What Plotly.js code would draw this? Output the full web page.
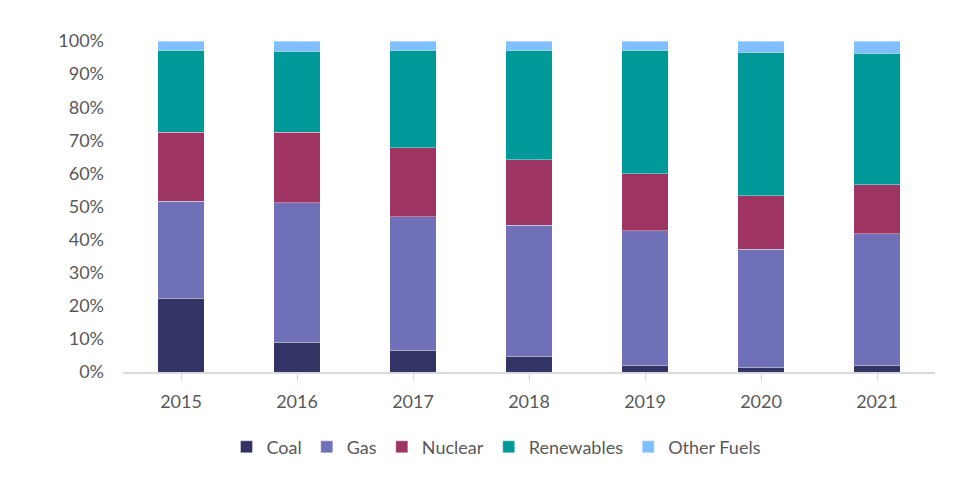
<!DOCTYPE html>
<html>
<head>
<meta charset="utf-8">
<script src="https://cdn.plot.ly/plotly-3.0.1.min.js"></script>
<style>
  html, body { margin: 0; padding: 0; background: #fff; }
  #chart { width: 959px; height: 481px; }
</style>
</head>
<body>
<div id="chart"></div>
<script>
// Share of generation by fuel (fraction of total)
const years = ['2015', '2016', '2017', '2018', '2019', '2020', '2021'];
const coal = [0.223, 0.090, 0.065, 0.047, 0.020, 0.014, 0.020];
const gas = [0.293, 0.421, 0.404, 0.397, 0.407, 0.357, 0.398];
const nuclear = [0.209, 0.214, 0.208, 0.197, 0.172, 0.162, 0.148];
const renewables = [0.247, 0.244, 0.295, 0.331, 0.373, 0.433, 0.397];
const otherFuels = [0.028, 0.031, 0.028, 0.028, 0.028, 0.034, 0.037];

function series(name, values, color) {
    return {
        type: 'bar',
        name: name,
        x: years,
        y: values,
        marker: { color: color, line: { color: 'rgba(255,255,255,0.6)', width: 0.6 } },
        hovertemplate: '%{x}: %{y:.1%}<extra>' + name + '</extra>'
    };
}

const data = [
    series('Coal', coal, '#333366'),
    series('Gas', gas, '#7070b8'),
    series('Nuclear', nuclear, '#9e3462'),
    series('Renewables', renewables, '#009999'),
    series('Other Fuels', otherFuels, '#7fbfff')
];

const layout = {
    barmode: 'stack',
    bargap: 0.6,
    width: 959,
    height: 481,
    margin: { l: 123, r: 24, t: 41, b: 109 },
    paper_bgcolor: '#ffffff',
    plot_bgcolor: '#ffffff',
    font: { family: 'Lato, "Open Sans", sans-serif', size: 18, color: '#595959' },
    xaxis: {
        showgrid: false,
        showline: true,
        linecolor: '#d9d9d9',
        linewidth: 1.5,
        ticks: 'outside',
        tickson: 'boundaries',
        ticklen: 7,
        tickcolor: '#d9d9d9',
        ticklabelstandoff: 6,
        tickfont: { size: 18, color: '#595959' }
    },
    yaxis: {
        range: [0, 1],
        dtick: 0.1,
        tickformat: '.0%',
        showgrid: false,
        zeroline: false,
        showline: false,
        ticks: '',
        ticklabelstandoff: 18,
        tickfont: { size: 18, color: '#595959' }
    },
    showlegend: true,
    legend: {
        orientation: 'h',
        x: 0.46,
        xanchor: 'center',
        y: -0.227,
        yanchor: 'middle',
        traceorder: 'normal',
        font: { size: 18, color: '#595959' },
        itemwidth: 30
    }
};

Plotly.newPlot('chart', data, layout, { displayModeBar: false, responsive: false });
</script>
</body>
</html>
